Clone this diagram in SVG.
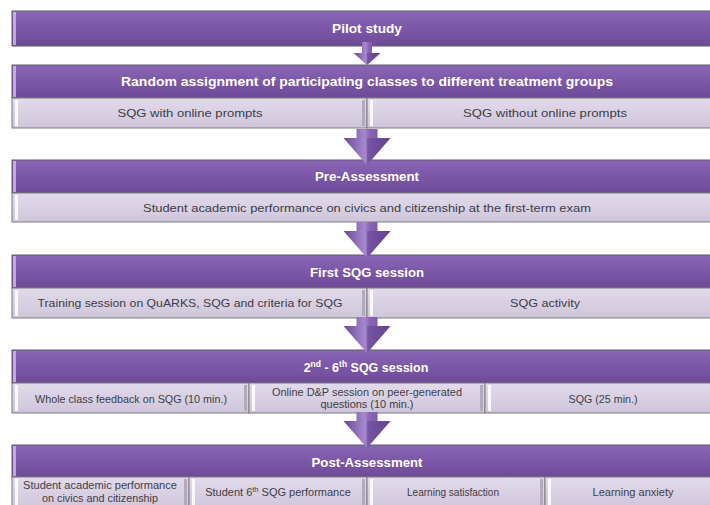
<svg xmlns="http://www.w3.org/2000/svg" width="710" height="505" viewBox="0 0 710 505">
<defs>
<linearGradient id="gh" x1="0" y1="0" x2="0" y2="1">
<stop offset="0" stop-color="#8a66b6"/>
<stop offset="0.5" stop-color="#7c57a8"/>
<stop offset="1" stop-color="#6d4a97"/>
</linearGradient>
<linearGradient id="gs" x1="0" y1="0" x2="0" y2="1">
<stop offset="0" stop-color="#e2dbea"/>
<stop offset="1" stop-color="#cfc5db"/>
</linearGradient>
<linearGradient id="ga" x1="0" y1="0" x2="1" y2="0">
<stop offset="0" stop-color="#6a4796"/>
<stop offset="0.45" stop-color="#a788cf"/>
<stop offset="0.55" stop-color="#8a66b8"/>
<stop offset="1" stop-color="#6a4796"/>
</linearGradient>
<path id="big" d="M-10.5,0 H10.5 V9 H23.5 L0,36 L-23.5,9 H-10.5 Z"/>
<path id="bigR" d="M0,9 H23.5 L0,36 Z"/>
<path id="small" d="M-5,0 H5 V11 H13.5 L0,23 L-13.5,11 H-5 Z"/>
<path id="smallR" d="M0,11 H13.5 L0,23 Z"/>
</defs>
<style>
.hdr{fill:url(#gh);stroke:#5e5e66;stroke-width:1}
.hl{fill:#cdb9e6;opacity:0.85}
.sub{fill:url(#gs);stroke:#7d7a82;stroke-width:1}
.shl{fill:#ffffff;opacity:0.85}
.ssh{fill:#b3aabd}
.ht{font-family:"Liberation Sans",Arial,sans-serif;font-weight:bold;font-size:12.5px;fill:#ffffff;text-anchor:middle}
.st{font-family:"Liberation Sans",Arial,sans-serif;font-size:11px;fill:#3d3d45;text-anchor:middle}
.sm{font-size:10.5px}
.arr{fill:url(#ga)}
.arrR{fill:#5c3c86;opacity:0.45}
</style>
<rect width="710" height="505" fill="#ffffff"/>

<g id="pilot">
<rect class="hdr" x="12" y="11" width="712" height="35"/>
<rect class="hl" x="13" y="12" width="3" height="33"/>
<text class="ht" x="367" y="33" textLength="70" lengthAdjust="spacingAndGlyphs">Pilot study</text>
</g>

<g id="random">
<rect class="hdr" x="12" y="65" width="712" height="33"/>
<rect class="hl" x="13" y="66" width="3" height="31"/>
<text class="ht" x="367" y="86" textLength="492" lengthAdjust="spacingAndGlyphs">Random assignment of participating classes to different treatment groups</text>
<g id="random-a">
<rect class="sub" x="12" y="98" width="355" height="30"/>
<rect class="shl" x="15" y="100" width="3" height="26"/>
<rect class="ssh" x="362" y="100" width="3" height="26"/>
<text class="st" x="190" y="117" textLength="145" lengthAdjust="spacingAndGlyphs">SQG with online prompts</text>
</g>
<g id="random-b">
<rect class="sub" x="367" y="98" width="357" height="30"/>
<rect class="shl" x="370" y="100" width="3" height="26"/>
<text class="st" x="545" y="117" textLength="164" lengthAdjust="spacingAndGlyphs">SQG without online prompts</text>
</g>
</g>

<g id="pre">
<rect class="hdr" x="12" y="160" width="712" height="33"/>
<rect class="hl" x="13" y="161" width="3" height="31"/>
<text class="ht" x="367" y="181" textLength="104" lengthAdjust="spacingAndGlyphs">Pre-Assessment</text>
<g id="pre-a">
<rect class="sub" x="12" y="193" width="712" height="29"/>
<rect class="shl" x="15" y="195" width="3" height="25"/>
<text class="st" x="367" y="212" textLength="448" lengthAdjust="spacingAndGlyphs">Student academic performance on civics and citizenship at the first-term exam</text>
</g>
</g>

<g id="first">
<rect class="hdr" x="12" y="255" width="712" height="33"/>
<rect class="hl" x="13" y="256" width="3" height="31"/>
<text class="ht" x="367" y="277" textLength="114" lengthAdjust="spacingAndGlyphs">First SQG session</text>
<g id="first-a">
<rect class="sub" x="12" y="288" width="355" height="30"/>
<rect class="shl" x="15" y="290" width="3" height="26"/>
<rect class="ssh" x="362" y="290" width="3" height="26"/>
<text class="st" x="190" y="307" textLength="305" lengthAdjust="spacingAndGlyphs">Training session on QuARKS, SQG and criteria for SQG</text>
</g>
<g id="first-b">
<rect class="sub" x="367" y="288" width="357" height="30"/>
<rect class="shl" x="370" y="290" width="3" height="26"/>
<text class="st" x="545" y="307" textLength="70" lengthAdjust="spacingAndGlyphs">SQG activity</text>
</g>
</g>

<g id="sessions">
<rect class="hdr" x="12" y="350" width="712" height="33"/>
<rect class="hl" x="13" y="351" width="3" height="31"/>
<text class="ht" x="366" y="372">2<tspan font-size="8.5" dy="-5">nd</tspan><tspan dy="5"> - 6</tspan><tspan font-size="8.5" dy="-5">th</tspan><tspan dy="5"> SQG session</tspan></text>
<g id="sessions-a">
<rect class="sub" x="12" y="383" width="237" height="30"/>
<rect class="shl" x="15" y="385" width="3" height="26"/>
<rect class="ssh" x="244" y="385" width="3" height="26"/>
<text class="st" x="131" y="403" textLength="192" lengthAdjust="spacingAndGlyphs">Whole class feedback on SQG (10 min.)</text>
</g>
<g id="sessions-b">
<rect class="sub" x="249" y="383" width="236" height="30"/>
<rect class="shl" x="252" y="385" width="3" height="26"/>
<rect class="ssh" x="480" y="385" width="3" height="26"/>
<text class="st" x="367" y="396" textLength="190" lengthAdjust="spacingAndGlyphs">Online D&amp;P session on peer-generated</text>
<text class="st" x="367" y="408" textLength="93" lengthAdjust="spacingAndGlyphs">questions (10 min.)</text>
</g>
<g id="sessions-c">
<rect class="sub" x="485" y="383" width="239" height="30"/>
<rect class="shl" x="488" y="385" width="3" height="26"/>
<text class="st" x="603" y="403" textLength="69" lengthAdjust="spacingAndGlyphs">SQG (25 min.)</text>
</g>
</g>

<g id="post">
<rect class="hdr" x="12" y="445" width="712" height="32"/>
<rect class="hl" x="13" y="446" width="3" height="30"/>
<text class="ht" x="367" y="467" textLength="111" lengthAdjust="spacingAndGlyphs">Post-Assessment</text>
<g id="post-a">
<rect class="sub" x="12" y="477" width="177" height="32"/>
<rect class="shl" x="15" y="479" width="3" height="28"/>
<rect class="ssh" x="184" y="479" width="3" height="28"/>
<text class="st sm" x="100" y="489" textLength="154" lengthAdjust="spacingAndGlyphs">Student academic performance</text>
<text class="st sm" x="100" y="502" textLength="116" lengthAdjust="spacingAndGlyphs">on civics and citizenship</text>
</g>
<g id="post-b">
<rect class="sub" x="189" y="477" width="178" height="32"/>
<rect class="shl" x="192" y="479" width="3" height="28"/>
<rect class="ssh" x="362" y="479" width="3" height="28"/>
<text class="st" x="278" y="496">Student 6<tspan font-size="7.5" dy="-4">th</tspan><tspan dy="4"> SQG performance</tspan></text>
</g>
<g id="post-c">
<rect class="sub" x="367" y="477" width="178" height="32"/>
<rect class="shl" x="370" y="479" width="3" height="28"/>
<rect class="ssh" x="540" y="479" width="3" height="28"/>
<text class="st" x="453" y="496" textLength="92" lengthAdjust="spacingAndGlyphs">Learning satisfaction</text>
</g>
<g id="post-d">
<rect class="sub" x="545" y="477" width="179" height="32"/>
<rect class="shl" x="548" y="479" width="3" height="28"/>
<text class="st" x="633" y="496" textLength="81" lengthAdjust="spacingAndGlyphs">Learning anxiety</text>
</g>
</g>

<g id="connectors">
<g transform="translate(367,42)"><use href="#small" class="arr"/><use href="#smallR" class="arrR"/></g>
<g transform="translate(367,129)"><use href="#big" class="arr"/><use href="#bigR" class="arrR"/></g>
<g transform="translate(367,222)"><use href="#big" class="arr"/><use href="#bigR" class="arrR"/></g>
<g transform="translate(367,317)"><use href="#big" class="arr"/><use href="#bigR" class="arrR"/></g>
<g transform="translate(367,412)"><use href="#big" class="arr"/><use href="#bigR" class="arrR"/></g>
</g>
</svg>
